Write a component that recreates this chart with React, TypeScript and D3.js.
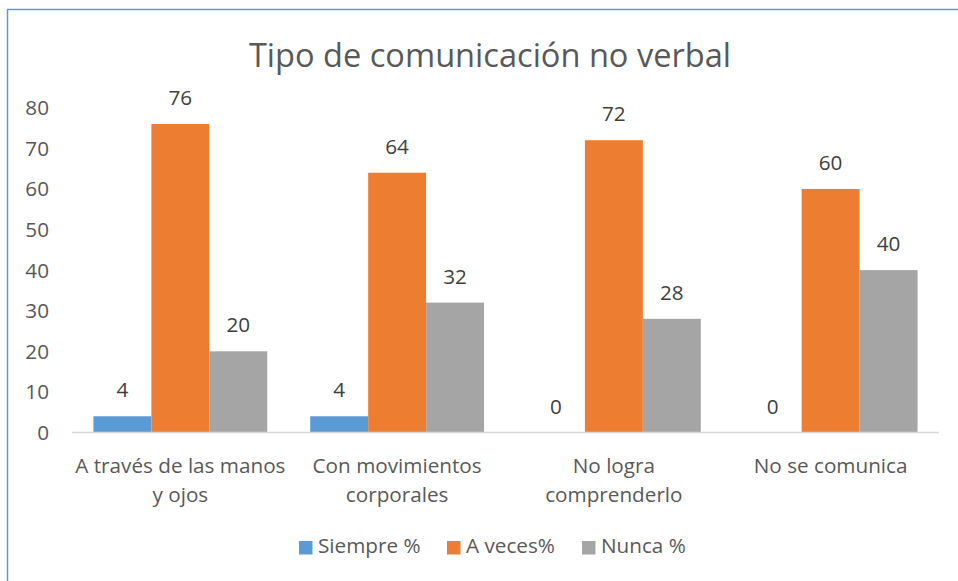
import React from "react";
import * as d3 from "d3";

const title = "Tipo de comunicación no verbal";
const categories = [
  ["A través de las manos", "y ojos"],
  ["Con movimientos", "corporales"],
  ["No logra", "comprenderlo"],
  ["No se comunica"],
];
const seriesNames = ["Siempre %", "A veces%", "Nunca %"];
const siempre = [4, 4, 0, 0];
const aVeces = [76, 64, 72, 60];
const nunca = [20, 32, 28, 40];
const yTicks = [0, 10, 20, 30, 40, 50, 60, 70, 80];
const colors = ["#5B9BD5", "#ED7D31", "#A5A5A5"];

export default function App() {
  const W = 958;
  const H = 581;
  const font = "'Open Sans', sans-serif";
  const txt = "#595959";
  const left = 72;
  const right = 939;
  const y = d3.scaleLinear().domain([0, 76]).range([432.5, 124]);
  const x0 = d3
    .scaleBand<number>()
    .domain(categories.map((_, i) => i))
    .range([left, right])
    .paddingInner(0.198)
    .paddingOuter(0.099);
  const x1 = d3
    .scaleBand<number>()
    .domain([0, 1, 2])
    .range([0, x0.bandwidth()]);
  const series = [siempre, aVeces, nunca];
  const legendX = [299, 447, 582];

  return (
    <svg
      width={W}
      height={H}
      style={{ position: "absolute", left: 0, top: 0 }}
      fontFamily={font}
    >
      <rect x={0} y={0} width={W} height={H} fill="#fff" />
      <path d={`M7.5,${H} L7.5,9.5 L${W},9.5`} fill="none" stroke="#5B9BD5" strokeWidth={1.5} />
      <text x={490} y={67} textAnchor="middle" fontSize={32.6} fill={txt}>
        {title}
      </text>
      {yTicks.map((t) => (
        <text key={t} x={49} y={y(t)} dy="0.36em" textAnchor="end" fontSize={20.7} fill={txt}>
          {t}
        </text>
      ))}
      {series.map((vals, si) =>
        vals.map((v, ci) => {
          const bx = (x0(ci) as number) + (x1(si) as number);
          const bw = x1.bandwidth();
          return (
            <g key={`${si}-${ci}`}>
              <rect
                x={bx}
                y={y(v)}
                width={bw}
                height={y(0) - y(v)}
                fill={colors[si]}
              />
              <text
                x={bx + bw / 2}
                y={y(v) - 19}
                textAnchor="middle"
                fontSize={20.7}
                fill="#404040"
              >
                {v}
              </text>
            </g>
          );
        })
      )}
      <line x1={left} x2={right} y1={y(0)} y2={y(0)} stroke="#D9D9D9" strokeWidth={1.5} />
      {categories.map((lines, ci) => (
        <text
          key={ci}
          x={(x0(ci) as number) + x0.bandwidth() / 2}
          y={473}
          textAnchor="middle"
          fontSize={20.7}
          fill={txt}
        >
          {lines.map((l, li) => (
            <tspan key={li} x={(x0(ci) as number) + x0.bandwidth() / 2} dy={li === 0 ? 0 : 29}>
              {l}
            </tspan>
          ))}
        </text>
      ))}
      {seriesNames.map((n, i) => (
        <g key={n}>
          <rect x={legendX[i]} y={541} width={13.5} height={13.5} fill={colors[i]} />
          <text x={legendX[i] + 19} y={553} fontSize={20.7} fill={txt}>
            {n}
          </text>
        </g>
      ))}
    </svg>
  );
}
